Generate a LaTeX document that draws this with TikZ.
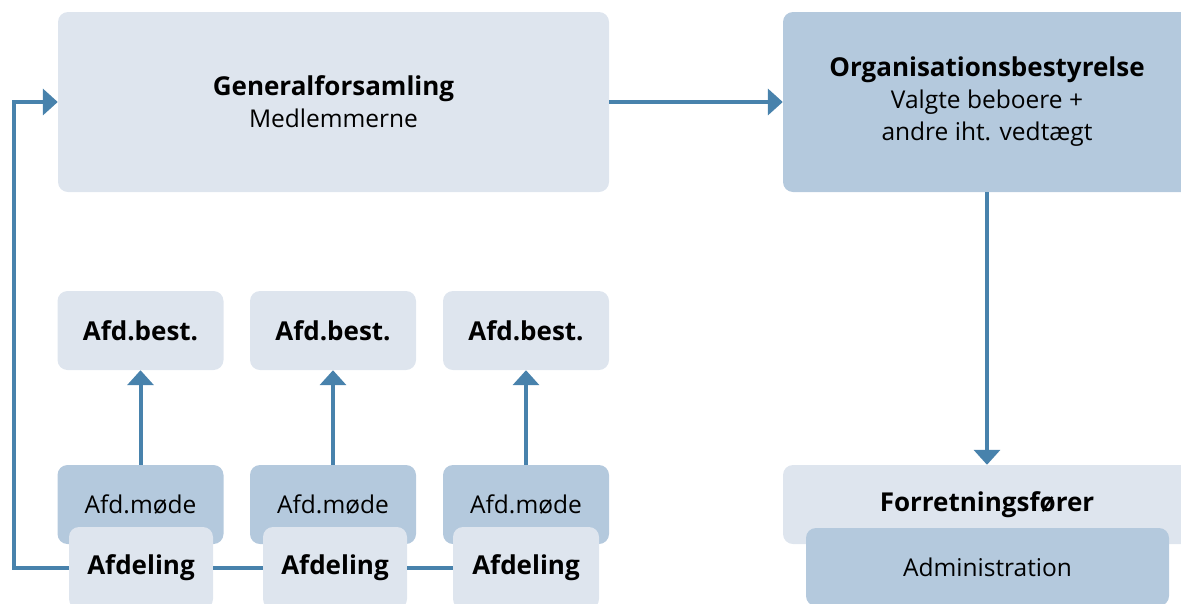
\documentclass[tikz,border=0pt]{standalone}
\usepackage{fontspec}
\setmainfont{Open Sans}
\usetikzlibrary{arrows.meta}
\definecolor{lightbox}{RGB}{222,229,238}
\definecolor{darkbox}{RGB}{180,201,221}
\definecolor{arrowblue}{RGB}{72,130,172}
\newcommand{\ttl}[1]{{\fontsize{26}{32}\selectfont\bfseries #1}}
\tikzset{
  box/.style={rounded corners=10pt, inner sep=0pt, align=center, text=black, font=\fontsize{24.5}{32}\selectfont},
  lightb/.style={box, fill=lightbox},
  darkb/.style={box, fill=darkbox},
  conn/.style={draw=arrowblue, line width=4pt},
  arr/.style={conn, -{Triangle[width=26pt,length=15pt]}},
}
\begin{document}
\begin{tikzpicture}[x=1pt,y=-1pt]
\useasboundingbox (0,0) rectangle (1181,603);
\node[lightb, minimum width=551pt, minimum height=180pt] (gen) at (333.5,102)
  {\ttl{Generalforsamling}\\Medlemmerne};
\node[darkb, minimum width=408pt, minimum height=180pt] (org) at (987,102)
  {\ttl{Organisationsbestyrelse}\\Valgte beboere +\\andre iht. vedtægt};
\node[lightb, minimum width=166pt, minimum height=79pt] (best1) at (140.5,330.5) {\ttl{Afd.best.}};
\node[lightb, minimum width=166pt, minimum height=79pt] (best2) at (333,330.5) {\ttl{Afd.best.}};
\node[lightb, minimum width=166pt, minimum height=79pt] (best3) at (526,330.5) {\ttl{Afd.best.}};
\node[darkb, minimum width=166pt, minimum height=79pt, text depth=0pt] (mode1) at (140.5,504.5) {Afd.møde};
\node[darkb, minimum width=166pt, minimum height=79pt, text depth=0pt] (mode2) at (333,504.5) {Afd.møde};
\node[darkb, minimum width=166pt, minimum height=79pt, text depth=0pt] (mode3) at (526,504.5) {Afd.møde};
\node[lightb, minimum width=144pt, minimum height=82pt] (afd1) at (141,568) {\ttl{Afdeling}};
\node[lightb, minimum width=144pt, minimum height=82pt] (afd2) at (335,568) {\ttl{Afdeling}};
\node[lightb, minimum width=146pt, minimum height=82pt] (afd3) at (526,568) {\ttl{Afdeling}};
\node[lightb, minimum width=408pt, minimum height=79pt] (forr) at (987,504.5) {\ttl{Forretningsfører}};
\node[darkb, minimum width=363pt, minimum height=78pt] (adm) at (987.5,567) {Administration};
\coordinate (corner) at (14,568);
% connectors
\draw[arr] (gen.east) -- (org.west);
\draw[arr] (org.south) -- (forr.north);
\draw[arr] (mode1.north) -- (best1.south);
\draw[arr] (mode2.north) -- (best2.south);
\draw[arr] (mode3.north) -- (best3.south);
\draw[conn] (afd1.east) -- (afd2.west);
\draw[conn] (afd2.east) -- (afd3.west);
\draw[arr] (afd1.west) -- (corner) |- (gen.west);
\end{tikzpicture}
\end{document}
